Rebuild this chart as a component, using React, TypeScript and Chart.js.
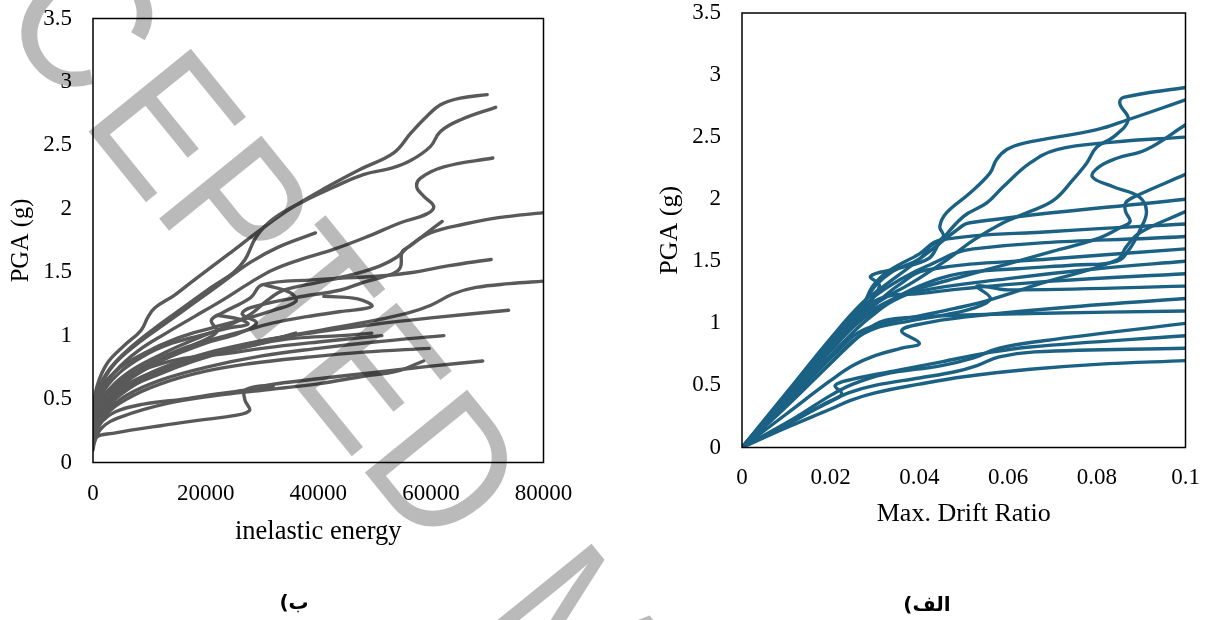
import React, { useEffect, useRef } from 'react';
import { Chart, registerables } from 'chart.js';

Chart.register(...registerables);

// ---------- tick labels ----------
const pgaTickLabels = ['0', '0.5', '1', '1.5', '2', '2.5', '3', '3.5'];
const energyTickLabels = ['0', '20000', '40000', '60000', '80000'];
const driftTickLabels = ['0', '0.02', '0.04', '0.06', '0.08', '0.1'];

// ---------- left panel: inelastic energy vs PGA ----------
const ie1 = [[0,0.42],[700,0.6],[2500,0.78],[5500,0.92],[8500,1.04],[9800,1.15],[11000,1.22],[14500,1.32],[18000,1.44],[24000,1.64],[29600,1.83],[35000,2.0],[41500,2.17],[47400,2.31],[53400,2.44],[56500,2.6],[59300,2.73],[61700,2.82],[65000,2.87],[70000,2.9]];
const ie2 = [[0,0.38],[1000,0.58],[3000,0.74],[6500,0.9],[11000,1.06],[16000,1.22],[21000,1.38],[25000,1.5],[27000,1.6],[29000,1.78],[32000,1.92],[37000,2.05],[42700,2.17],[48000,2.27],[53000,2.32],[56400,2.38],[59900,2.49],[61700,2.61],[65200,2.7],[71500,2.8]];
const ie3 = [[0,0.33],[1500,0.55],[4000,0.72],[8000,0.88],[13000,1.02],[18000,1.15],[23000,1.28],[28000,1.42],[32000,1.52],[36800,1.6],[42700,1.68],[48700,1.78],[54600,1.89],[59300,1.96],[60500,2.02],[58700,2.1],[57500,2.17],[58100,2.24],[62300,2.33],[71000,2.4]];
const ie4 = [[0,0.3],[2000,0.52],[6000,0.7],[12000,0.85],[18000,0.97],[24000,1.08],[28000,1.17],[31000,1.28],[34000,1.36],[40000,1.42],[46000,1.48],[51000,1.55],[54000,1.62],[56000,1.7],[59900,1.81],[66000,1.88],[72000,1.93],[80000,1.97]];
const ie5 = [[0,0.28],[2000,0.5],[6000,0.66],[12000,0.8],[20000,0.94],[26000,1.02],[29000,1.1],[26500,1.17],[28000,1.22],[36000,1.3],[44000,1.36],[48000,1.42],[53300,1.49],[54600,1.54],[54900,1.66],[56400,1.71],[59900,1.83],[62000,1.9]];
const ie6 = [[0,0.36],[1200,0.58],[3500,0.76],[8000,0.94],[13000,1.1],[18000,1.26],[23000,1.42],[28000,1.58],[33000,1.7],[39500,1.81]];
const ie7 = [[0,0.25],[2000,0.46],[6000,0.64],[12000,0.8],[18000,0.93],[22000,1.03],[21000,1.12],[23000,1.18],[28000,1.3],[30000,1.4],[39000,1.44],[51000,1.47],[57000,1.5],[63000,1.55],[70700,1.6]];
const ie8 = [[0,0.2],[2000,0.4],[6000,0.57],[12000,0.72],[20000,0.85],[30000,0.96],[40000,1.04],[50000,1.12],[56000,1.18],[60000,1.24],[64000,1.33],[68000,1.38],[74000,1.41],[80000,1.43]];
const ie9 = [[0,0.22],[2000,0.44],[6000,0.6],[12000,0.74],[20000,0.86],[30000,0.96],[40000,1.03],[50000,1.09],[60000,1.14],[73800,1.2]];
const ie10 = [[0,0.2],[2000,0.38],[6000,0.53],[12000,0.65],[20000,0.75],[30000,0.84],[40000,0.9],[50000,0.95],[62300,1.0]];
const ie11 = [[0,0.3],[1500,0.5],[5000,0.65],[10000,0.75],[16000,0.82],[24000,0.86],[30000,0.9],[40000,0.95],[51300,1.0]];
const ie12 = [[0,0.17],[2000,0.36],[6000,0.5],[12000,0.62],[20000,0.72],[28000,0.78],[38000,0.83],[48000,0.87],[59700,0.9]];
const ie13 = [[0,0.1],[600,0.2],[3500,0.23],[12000,0.29],[20000,0.34],[25000,0.37],[27800,0.41],[27000,0.49],[27000,0.57],[31000,0.61],[40000,0.66],[50000,0.71],[60000,0.76],[69200,0.8]];
const ie14 = [[0,0.13],[1500,0.27],[5000,0.36],[13600,0.47],[22000,0.53],[30000,0.57],[40000,0.62],[48000,0.68],[54000,0.72],[58700,0.8]];
const ie15 = [[0,0.16],[1200,0.3],[4000,0.4],[9000,0.46],[16000,0.5],[22000,0.54],[27000,0.57],[32000,0.6]];
const ie16 = [[0,0.26],[1500,0.48],[5000,0.64],[10000,0.78],[16000,0.9],[22000,0.98],[27000,1.04],[32000,1.1],[38000,1.15],[44000,1.19],[49500,1.23],[47000,1.29],[41000,1.31]];
const ie17 = [[0,0.22],[2000,0.42],[6000,0.58],[12000,0.7],[18000,0.8],[24000,0.88],[30000,0.94],[36000,0.98],[44000,1.0],[49500,1.02]];
const ie18 = [[0,0.34],[1200,0.56],[4000,0.72],[9000,0.86],[15000,0.98],[21000,1.06],[26000,1.12],[32000,1.2],[36000,1.27],[35000,1.34],[30500,1.4]];
const ie19 = [[0,0.24],[1800,0.45],[5500,0.6],[11000,0.72],[17000,0.81],[23000,0.87],[29000,0.93],[33000,0.98],[36000,1.02]];
const ie20 = [[0,0.31],[1300,0.52],[4500,0.7],[9000,0.84],[14000,0.94],[19000,1.0],[24000,1.06],[27500,1.09],[26000,1.13],[22000,1.16]];
const energySeries = [ie1, ie2, ie3, ie4, ie5, ie6, ie7, ie8, ie9, ie10, ie11, ie12, ie13, ie14, ie15, ie16, ie17, ie18, ie19, ie20];

// ---------- right panel: max drift ratio vs PGA ----------
const dr07 = [[0,0],[0.01,0.16],[0.02,0.31],[0.0245,0.38],[0.03,0.44],[0.04,0.51],[0.05,0.57],[0.065,0.63],[0.08,0.67],[0.1,0.7]];
const dr08 = [[0,0],[0.01,0.19],[0.02,0.37],[0.024,0.44],[0.03,0.5],[0.04,0.56],[0.048,0.61],[0.053,0.66],[0.058,0.73],[0.066,0.77],[0.1,0.8]];
const dr09 = [[0,0],[0.01,0.18],[0.019,0.36],[0.0225,0.43],[0.021,0.5],[0.025,0.55],[0.035,0.62],[0.045,0.69],[0.055,0.76],[0.065,0.81],[0.1,0.9]];
const dr10 = [[0,0],[0.012,0.24],[0.02,0.42],[0.025,0.51],[0.032,0.59],[0.045,0.66],[0.052,0.72],[0.058,0.8],[0.068,0.86],[0.1,1.0]];
const dr11 = [[0,0],[0.01,0.34],[0.02,0.68],[0.025,0.85],[0.029,0.97],[0.033,1.03],[0.045,1.06],[0.065,1.08],[0.1,1.1]];
const dr12 = [[0,0],[0.01,0.27],[0.02,0.54],[0.025,0.66],[0.03,0.74],[0.036,0.8],[0.04,0.84],[0.036,0.94],[0.041,1.0],[0.05,1.05],[0.07,1.12],[0.1,1.2]];
const dr13 = [[0,0],[0.01,0.33],[0.02,0.68],[0.025,0.86],[0.03,0.96],[0.038,1.02],[0.046,1.07],[0.052,1.12],[0.056,1.2],[0.053,1.3],[0.06,1.27],[0.1,1.3]];
const dr14 = [[0,0],[0.01,0.4],[0.02,0.8],[0.026,1.04],[0.029,1.16],[0.033,1.22],[0.04,1.24],[0.05,1.28],[0.07,1.34],[0.1,1.4]];
const dr15 = [[0,0],[0.01,0.36],[0.02,0.74],[0.026,0.96],[0.03,1.08],[0.034,1.18],[0.04,1.26],[0.06,1.36],[0.08,1.44],[0.1,1.5]];
const dr16 = [[0,0],[0.01,0.38],[0.02,0.78],[0.026,1.02],[0.03,1.15],[0.035,1.3],[0.0416,1.43],[0.07,1.52],[0.1,1.6]];
const dr17 = [[0,0],[0.01,0.41],[0.02,0.82],[0.026,1.07],[0.03,1.22],[0.036,1.36],[0.0416,1.46],[0.0522,1.6],[0.1,1.7]];
const dr18 = [[0,0],[0.01,0.42],[0.02,0.86],[0.027,1.13],[0.0295,1.3],[0.033,1.42],[0.04,1.56],[0.0446,1.67],[0.07,1.74],[0.1,1.8]];
const dr19 = [[0,0],[0.01,0.36],[0.02,0.72],[0.026,0.92],[0.032,1.0],[0.04,1.06],[0.048,1.12],[0.0559,1.19],[0.0672,1.32],[0.0845,1.51],[0.0867,1.62],[0.0897,1.73],[0.1,1.9]];
const dr20 = [[0,0],[0.01,0.44],[0.02,0.88],[0.027,1.16],[0.032,1.3],[0.038,1.46],[0.043,1.6],[0.048,1.74],[0.0514,1.81],[0.1,2.0]];
const dr22 = [[0,0],[0.01,0.4],[0.02,0.8],[0.026,1.02],[0.032,1.16],[0.04,1.28],[0.05,1.38],[0.06,1.48],[0.07,1.58],[0.08,1.68],[0.0852,1.77],[0.0875,1.82],[0.0865,1.9],[0.0865,1.97],[0.0885,2.02],[0.1,2.2]];
const dr25 = [[0,0],[0.01,0.4],[0.02,0.82],[0.027,1.1],[0.031,1.3],[0.029,1.38],[0.035,1.44],[0.042,1.52],[0.0446,1.65],[0.0499,1.86],[0.0552,1.97],[0.0589,2.1],[0.0649,2.29],[0.071,2.4],[0.0837,2.46],[0.1,2.5]];
const dr26 = [[0,0],[0.01,0.38],[0.02,0.78],[0.026,1.0],[0.032,1.15],[0.04,1.3],[0.049,1.4],[0.062,1.44],[0.075,1.47],[0.0845,1.5],[0.0874,1.6],[0.0897,1.75],[0.0912,1.9],[0.0895,2.02],[0.0837,2.1],[0.079,2.18],[0.0805,2.26],[0.0845,2.33],[0.0912,2.4],[0.1,2.6]];
const dr28 = [[0,0],[0.01,0.42],[0.02,0.86],[0.027,1.14],[0.03,1.3],[0.034,1.42],[0.04,1.52],[0.0424,1.62],[0.0454,1.7],[0.0446,1.78],[0.0461,1.89],[0.0514,2.05],[0.0559,2.21],[0.0574,2.32],[0.0597,2.4],[0.0634,2.45],[0.08,2.56],[0.087,2.64],[0.1,2.8]];
const dr29 = [[0,0],[0.01,0.4],[0.02,0.8],[0.026,1.05],[0.032,1.2],[0.038,1.32],[0.0461,1.51],[0.0522,1.67],[0.0589,1.81],[0.0642,1.89],[0.0702,1.99],[0.0747,2.16],[0.0777,2.29],[0.08,2.42],[0.0837,2.5],[0.0871,2.64],[0.0852,2.77],[0.086,2.82],[0.1,2.9]];
const driftSeries = [dr07, dr08, dr09, dr10, dr11, dr12, dr13, dr14, dr15, dr16, dr17, dr18, dr19, dr20, dr22, dr25, dr26, dr28, dr29];

const SERIF = '"Liberation Serif", "Times New Roman", serif';

const framePlugin = {
  id: 'frame',
  afterDatasetsDraw(chart: any) {
    const { ctx, chartArea: a } = chart;
    ctx.save();
    ctx.strokeStyle = '#000';
    ctx.lineWidth = 1.5;
    ctx.strokeRect(a.left, a.top, a.right - a.left, a.bottom - a.top);
    ctx.restore();
  },
};

type PanelCfg = {
  series: number[][][];
  color: string;
  xMax: number;
  xStep: number;
  xLabels: string[];
  xTitle: string;
  yAxisWidth: number;
  xAxisHeight: number;
  padTop: number;
  padRight: number;
  xTickPad: number;
  xTitleSize: number;
  xTitlePadBottom: number;
  yTitleSize: number;
  yTitlePadTop: number;
};

function buildChart(canvas: HTMLCanvasElement, c: PanelCfg) {
  return new Chart(canvas, {
    type: 'scatter',
    data: {
      datasets: c.series.map((s) => ({
        data: s.map(([x, y]) => ({ x, y })),
        showLine: true,
        borderColor: c.color,
        backgroundColor: c.color,
        borderWidth: 3.4,
        pointRadius: 0,
        pointHoverRadius: 0,
        tension: 0.4,
        borderCapStyle: 'round',
        borderJoinStyle: 'round',
      })),
    },
    options: {
      animation: false,
      responsive: false,
      maintainAspectRatio: false,
      events: [],
      layout: { padding: { left: 0, top: c.padTop, right: c.padRight, bottom: 0 } },
      plugins: { legend: { display: false }, tooltip: { enabled: false }, title: { display: false } },
      scales: {
        x: {
          type: 'linear',
          min: 0,
          max: c.xMax,
          grid: { display: false, drawTicks: false },
          border: { display: false },
          ticks: {
            stepSize: c.xStep,
            autoSkip: false,
            maxRotation: 0,
            padding: c.xTickPad,
            color: '#000',
            font: { family: SERIF, size: 23 },
            callback: (v: any) => c.xLabels[Math.round(Number(v) / c.xStep)] ?? '',
          },
          title: {
            display: true,
            text: c.xTitle,
            color: '#000',
            font: { family: SERIF, size: c.xTitleSize },
            padding: { top: 0, bottom: c.xTitlePadBottom },
          },
          afterFit: (s: any) => {
            s.height = c.xAxisHeight;
            s.paddingLeft = 0;
            s.paddingRight = 0;
          },
        },
        y: {
          type: 'linear',
          min: 0,
          max: 3.5,
          grid: { display: false, drawTicks: false },
          border: { display: false },
          ticks: {
            stepSize: 0.5,
            autoSkip: false,
            padding: 21,
            color: '#000',
            font: { family: SERIF, size: 23 },
            callback: (v: any) => pgaTickLabels[Math.round(Number(v) / 0.5)] ?? '',
          },
          title: {
            display: true,
            text: 'PGA (g)',
            color: '#000',
            font: { family: SERIF, size: c.yTitleSize },
            padding: { top: c.yTitlePadTop, bottom: 0 },
          },
          afterFit: (s: any) => {
            s.width = c.yAxisWidth;
            s.paddingTop = 0;
            s.paddingBottom = 0;
          },
        },
      },
    },
    plugins: [framePlugin],
  } as any);
}

const leftCfg: PanelCfg = {
  series: energySeries,
  color: '#595959',
  xMax: 80000,
  xStep: 20000,
  xLabels: energyTickLabels,
  xTitle: 'inelastic energy',
  yAxisWidth: 93,
  xAxisHeight: 157.5,
  padTop: 18.5,
  padRight: 56.5,
  xTickPad: 18,
  xTitleSize: 26.5,
  xTitlePadBottom: 72,
  yTitleSize: 24.5,
  yTitlePadTop: 7,
};

const rightCfg: PanelCfg = {
  series: driftSeries,
  color: '#1b6184',
  xMax: 0.1,
  xStep: 0.02,
  xLabels: driftTickLabels,
  xTitle: 'Max. Drift Ratio',
  yAxisWidth: 142,
  xAxisHeight: 172.5,
  padTop: 13,
  padRight: 20.5,
  xTickPad: 16.5,
  xTitleSize: 26,
  xTitlePadBottom: 90,
  yTitleSize: 26,
  yTitlePadTop: 54.5,
};

function Panel({ cfg, left, width }: { cfg: PanelCfg; left: number; width: number }) {
  const ref = useRef<HTMLCanvasElement | null>(null);
  useEffect(() => {
    if (!ref.current) return;
    const chart = buildChart(ref.current, cfg);
    return () => chart.destroy();
  }, [cfg]);
  return (
    <canvas
      ref={ref}
      width={width}
      height={620}
      style={{ position: 'absolute', left, top: 0, width, height: 620 }}
    />
  );
}

const WM_SIZE = 191;
const WM_BASE = 161.7;

const captionStyle = {
  position: 'absolute' as const,
  width: 100,
  height: 26,
  lineHeight: '26px',
  textAlign: 'center' as const,
  font: 'bold 20px "DejaVu Sans", sans-serif',
  color: '#000',
};

export default function App() {
  return (
    <div
      style={{
        position: 'fixed',
        left: 0,
        top: 0,
        width: 1206,
        height: 620,
        overflow: 'hidden',
        background: '#fff',
      }}
    >
      <Panel cfg={leftCfg} left={0} width={600} />
      <Panel cfg={rightCfg} left={600} width={606} />
      <div dir="rtl" style={{ ...captionStyle, left: 244, top: 590 }}>
        ب)
      </div>
      <div dir="rtl" style={{ ...captionStyle, left: 877, top: 592 }}>
        الف)
      </div>
      <div
        style={{
          position: 'absolute',
          left: -152.1,
          top: -166.6 - WM_BASE,
          fontFamily: '"Liberation Sans", Arial, sans-serif',
          fontSize: WM_SIZE,
          lineHeight: `${WM_SIZE}px`,
          color: 'rgba(0,0,0,0.27)',
          whiteSpace: 'nowrap',
          transform: 'rotate(51deg) scaleX(0.88)',
          transformOrigin: `0px ${WM_BASE}px`,
          pointerEvents: 'none',
        }}
      >
        AC<span style={{ letterSpacing: 16 }}>C</span>EPTED <span style={{ marginLeft: 34 }}>MANUSCRIPT</span>
      </div>
    </div>
  );
}
